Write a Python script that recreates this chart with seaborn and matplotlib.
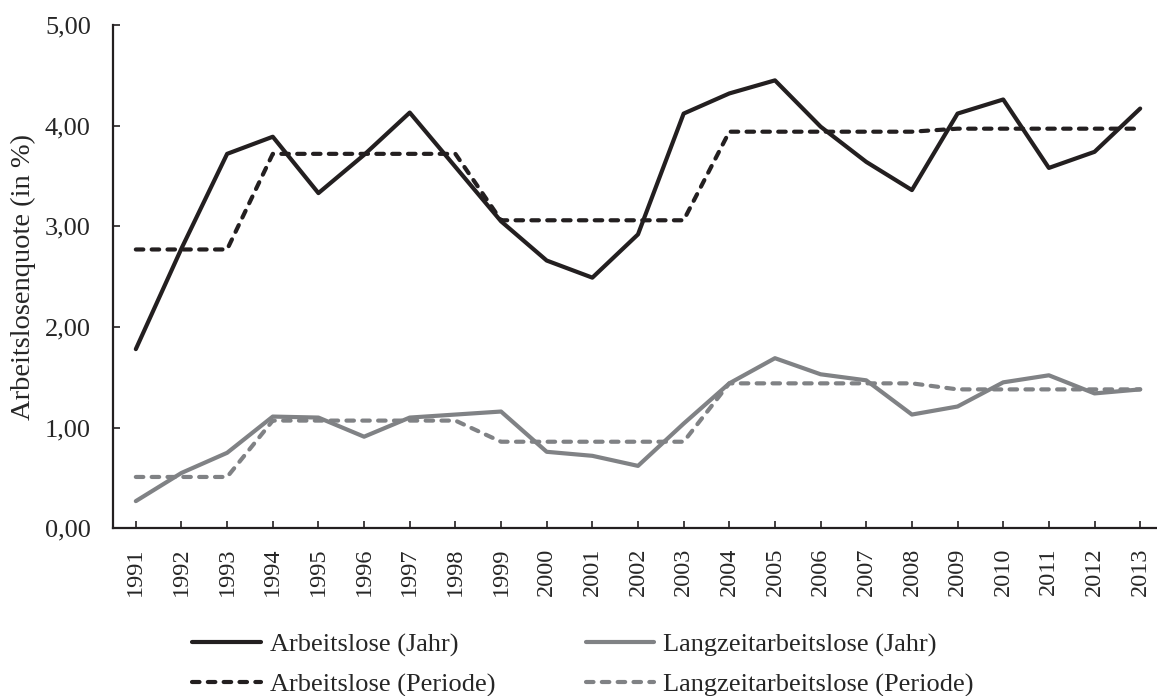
import matplotlib
matplotlib.use('Agg')
import matplotlib.pyplot as plt
from matplotlib.ticker import FuncFormatter
import seaborn as sns
import pandas as pd

# Daten
years = list(range(1991, 2014))
arbeitslose_jahr = [1.78, 2.78, 3.72, 3.89, 3.33, 3.71, 4.13, 3.59, 3.05, 2.66, 2.49, 2.92,
                    4.12, 4.32, 4.45, 3.99, 3.64, 3.36, 4.12, 4.26, 3.58, 3.74, 4.17]
arbeitslose_periode = [2.77, 2.77, 2.77, 3.72, 3.72, 3.72, 3.72, 3.72, 3.06, 3.06, 3.06, 3.06,
                       3.06, 3.94, 3.94, 3.94, 3.94, 3.94, 3.97, 3.97, 3.97, 3.97, 3.97]
langzeit_jahr = [0.27, 0.55, 0.75, 1.11, 1.10, 0.91, 1.10, 1.13, 1.16, 0.76, 0.72, 0.62,
                 1.04, 1.44, 1.69, 1.53, 1.47, 1.13, 1.21, 1.45, 1.52, 1.34, 1.38]
langzeit_periode = [0.51, 0.51, 0.51, 1.07, 1.07, 1.07, 1.07, 1.07, 0.86, 0.86, 0.86, 0.86,
                    0.86, 1.44, 1.44, 1.44, 1.44, 1.44, 1.38, 1.38, 1.38, 1.38, 1.38]

BLACK = '#231f20'
GREY = '#808285'
FS = 19

sns.set_style('white')
plt.rcParams['font.family'] = ['Liberation Serif', 'DejaVu Serif']

fig = plt.figure(figsize=(11.57, 6.96), dpi=100)
ax = fig.add_axes([113 / 1157, 1 - 528.3 / 696, (1163 - 113) / 1157, (528.3 - 25) / 696])

series = [
    ('Arbeitslose (Jahr)', arbeitslose_jahr, BLACK, '-'),
    ('Arbeitslose (Periode)', arbeitslose_periode, BLACK, '--'),
    ('Langzeitarbeitslose (Jahr)', langzeit_jahr, GREY, '-'),
    ('Langzeitarbeitslose (Periode)', langzeit_periode, GREY, '--'),
]

for name, vals, col, ls in series:
    df = pd.DataFrame({'Jahr': years, 'Wert': vals})
    line_kw = dict(color=col, linewidth=3.0, label=name, ax=ax)
    if ls == '--':
        line_kw['dashes'] = (1.8, 2.0)
        line_kw['dash_capstyle'] = 'round'
    sns.lineplot(data=df, x='Jahr', y='Wert', **line_kw)

ax.set_xlim(1990.5, 2013.5)
ax.set_ylim(0, 5)
ax.set_xticks(years)
ax.set_xticklabels([str(y) for y in years], rotation=90, fontsize=17.5)
ax.set_yticks([0, 1, 2, 3, 4, 5])
ax.yaxis.set_major_formatter(FuncFormatter(lambda v, p: f'{v:.2f}'.replace('.', ',')))
ax.tick_params(axis='y', labelsize=FS, pad=16)
ax.tick_params(axis='x', pad=14)
ax.tick_params(direction='in', length=5, width=1.2, color=BLACK, bottom=True, left=True)
ax.set_xlabel('')
ax.set_ylabel('Arbeitslosenquote (in %)', fontsize=20.5)
ax.yaxis.set_label_coords(-0.073, 0.5)

for s in ['top', 'right']:
    ax.spines[s].set_visible(False)
for s in ['left', 'bottom']:
    ax.spines[s].set_color(BLACK)
    ax.spines[s].set_linewidth(1.6)

ax.legend().remove()
handles, labels = ax.get_legend_handles_labels()
fig.legend(handles, labels, ncol=2, loc='upper left', bbox_to_anchor=(192 / 1157, 1 - 633 / 696),
           frameon=False, fontsize=FS, handlelength=2.6, handletextpad=0.34, columnspacing=3.43,
           borderpad=0, borderaxespad=0, labelspacing=0.6)

fig.savefig('out.png', dpi=100)
